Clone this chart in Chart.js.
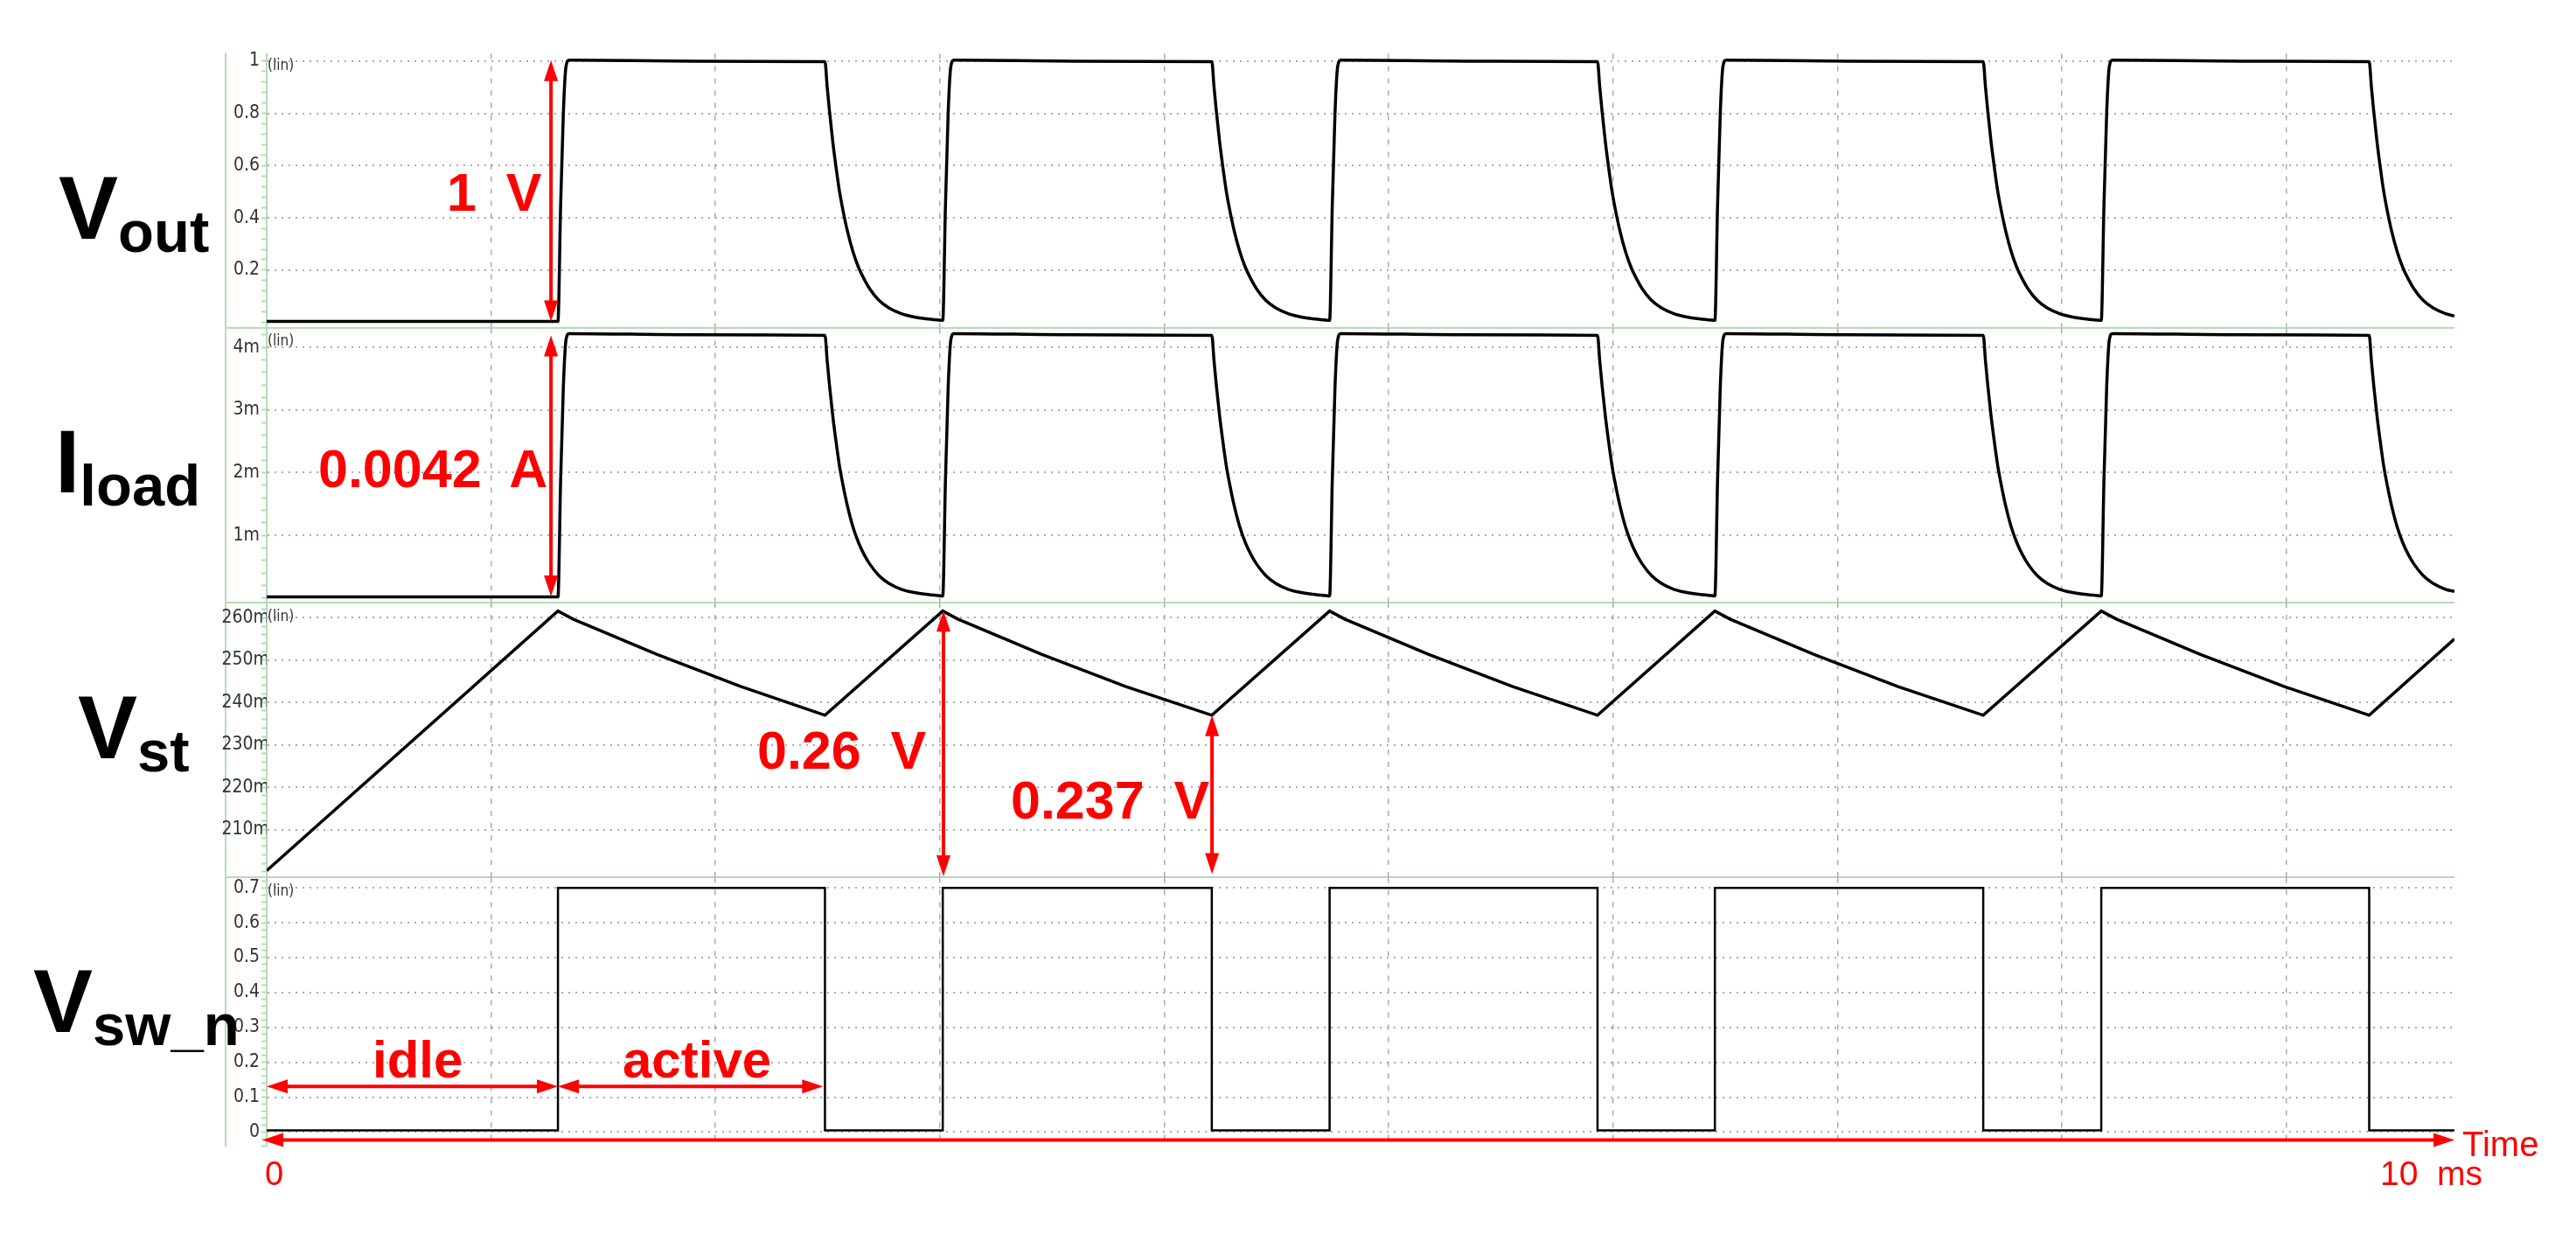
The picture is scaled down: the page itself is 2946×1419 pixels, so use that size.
<!DOCTYPE html>
<html>
<head>
<meta charset="utf-8">
<title>Vout, Iload, Vst, Vsw_n</title>
<script src="https://cdn.jsdelivr.net/npm/chart.js@4.4.1/dist/chart.umd.min.js"></script>
<style>
  html, body { margin: 0; padding: 0; background: #fff; }
  body { width: 2946px; height: 1419px; position: relative; overflow: hidden; font-family: "Liberation Sans", Arial, sans-serif; }
  canvas { position: absolute; left: 0; }
  .frame { position: absolute; left: 257px; top: 61px; width: 0; height: 1250px; border-left: 2px solid #b6dbb6; }
  .sep { position: absolute; left: 257px; width: 2550px; height: 0; border-top: 2px solid #b6dbb6; }
  .sig { position: absolute; font-weight: bold; font-size: 102px; line-height: 1; white-space: nowrap; color: #000; }
  .sig span { font-size: 67px; vertical-align: -15px; }
  .note { position: absolute; color: #ff0000; font-weight: bold; font-size: 61px; line-height: 1; white-space: pre; }
  .axisnote { position: absolute; color: #ff0000; line-height: 1; white-space: pre; }
  .lin { position: absolute; left: 306px; font-family: "DejaVu Sans Condensed", "DejaVu Sans", sans-serif; font-size: 17px; line-height: 1; color: #333; }
</style>
</head>
<body>
<div class="frame"></div>
<div class="sep" style="top:374px"></div>
<div class="sep" style="top:688px"></div>
<div class="sep" style="top:1002px"></div>

<script>
// time in ms (grid every 1), panel values: Vout in V, Iload in mA, Vst in mV, Vsw_n in V
const timeTicks = [0, 1, 2, 3, 4, 5, 6, 7, 8, 9];
const voutTicks = [0.2, 0.4, 0.6, 0.8, 1];
const iloadTicks = [1, 2, 3, 4];
const vstTicks = [210, 220, 230, 240, 250, 260];
const vswTicks = [0, 0.1, 0.2, 0.3, 0.4, 0.5, 0.6, 0.7];

const voutPoints = [
  [0, 0.004], [1.298, 0.004], [1.310, 0.45], [1.322, 0.8], [1.334, 0.98], [1.348, 1.004], [1.90, 1.0], [2.488, 0.998],
  [2.498, 0.90], [2.508, 0.81], [2.523, 0.69], [2.538, 0.59], [2.553, 0.50], [2.568, 0.43], [2.588, 0.35], [2.613, 0.27], [2.638, 0.21],
  [2.663, 0.165], [2.688, 0.128], [2.728, 0.085], [2.774, 0.055], [2.828, 0.034], [2.886, 0.021], [2.938, 0.014], [2.998, 0.009], [3.013, 0.008],
  [3.025, 0.45], [3.037, 0.8], [3.049, 0.98], [3.063, 1.004], [3.60, 1.0], [4.212, 0.998],
  [4.222, 0.90], [4.232, 0.81], [4.247, 0.69], [4.262, 0.59], [4.277, 0.50], [4.292, 0.43], [4.312, 0.35], [4.337, 0.27], [4.362, 0.21],
  [4.387, 0.165], [4.412, 0.128], [4.452, 0.085], [4.498, 0.055], [4.552, 0.034], [4.610, 0.021], [4.662, 0.014], [4.722, 0.009], [4.737, 0.008],
  [4.749, 0.45], [4.761, 0.8], [4.773, 0.98], [4.787, 1.004], [5.35, 1.0], [5.931, 0.998],
  [5.941, 0.90], [5.951, 0.81], [5.966, 0.69], [5.981, 0.59], [5.996, 0.50], [6.011, 0.43], [6.031, 0.35], [6.056, 0.27], [6.081, 0.21],
  [6.106, 0.165], [6.131, 0.128], [6.171, 0.085], [6.217, 0.055], [6.271, 0.034], [6.329, 0.021], [6.381, 0.014], [6.441, 0.009], [6.454, 0.008],
  [6.466, 0.45], [6.478, 0.8], [6.490, 0.98], [6.504, 1.004], [7.05, 1.0], [7.650, 0.998],
  [7.660, 0.90], [7.670, 0.81], [7.685, 0.69], [7.700, 0.59], [7.715, 0.50], [7.730, 0.43], [7.750, 0.35], [7.775, 0.27], [7.800, 0.21],
  [7.825, 0.165], [7.850, 0.128], [7.890, 0.085], [7.936, 0.055], [7.990, 0.034], [8.048, 0.021], [8.100, 0.014], [8.160, 0.009], [8.176, 0.008],
  [8.188, 0.45], [8.200, 0.8], [8.212, 0.98], [8.226, 1.004], [8.80, 1.0], [9.370, 0.998],
  [9.380, 0.90], [9.390, 0.81], [9.405, 0.69], [9.420, 0.59], [9.435, 0.50], [9.450, 0.43], [9.470, 0.35], [9.495, 0.27], [9.520, 0.21],
  [9.545, 0.165], [9.570, 0.128], [9.610, 0.085], [9.656, 0.055], [9.710, 0.034], [9.75, 0.025],
];

const iloadPoints = [
  [0, 0.017], [1.298, 0.017], [1.310, 1.89], [1.322, 3.36], [1.334, 4.12], [1.348, 4.22], [1.90, 4.20], [2.488, 4.19],
  [2.498, 3.78], [2.508, 3.40], [2.523, 2.90], [2.538, 2.48], [2.553, 2.10], [2.568, 1.81], [2.588, 1.47], [2.613, 1.13], [2.638, 0.88],
  [2.663, 0.69], [2.688, 0.54], [2.728, 0.36], [2.774, 0.23], [2.828, 0.14], [2.886, 0.088], [2.938, 0.059], [2.998, 0.038], [3.013, 0.034],
  [3.025, 1.89], [3.037, 3.36], [3.049, 4.12], [3.063, 4.22], [3.60, 4.20], [4.212, 4.19],
  [4.222, 3.78], [4.232, 3.40], [4.247, 2.90], [4.262, 2.48], [4.277, 2.10], [4.292, 1.81], [4.312, 1.47], [4.337, 1.13], [4.362, 0.88],
  [4.387, 0.69], [4.412, 0.54], [4.452, 0.36], [4.498, 0.23], [4.552, 0.14], [4.610, 0.088], [4.662, 0.059], [4.722, 0.038], [4.737, 0.034],
  [4.749, 1.89], [4.761, 3.36], [4.773, 4.12], [4.787, 4.22], [5.35, 4.20], [5.931, 4.19],
  [5.941, 3.78], [5.951, 3.40], [5.966, 2.90], [5.981, 2.48], [5.996, 2.10], [6.011, 1.81], [6.031, 1.47], [6.056, 1.13], [6.081, 0.88],
  [6.106, 0.69], [6.131, 0.54], [6.171, 0.36], [6.217, 0.23], [6.271, 0.14], [6.329, 0.088], [6.381, 0.059], [6.441, 0.038], [6.454, 0.034],
  [6.466, 1.89], [6.478, 3.36], [6.490, 4.12], [6.504, 4.22], [7.05, 4.20], [7.650, 4.19],
  [7.660, 3.78], [7.670, 3.40], [7.685, 2.90], [7.700, 2.48], [7.715, 2.10], [7.730, 1.81], [7.750, 1.47], [7.775, 1.13], [7.800, 0.88],
  [7.825, 0.69], [7.850, 0.54], [7.890, 0.36], [7.936, 0.23], [7.990, 0.14], [8.048, 0.088], [8.100, 0.059], [8.160, 0.038], [8.176, 0.034],
  [8.188, 1.89], [8.200, 3.36], [8.212, 4.12], [8.226, 4.22], [8.80, 4.20], [9.370, 4.19],
  [9.380, 3.78], [9.390, 3.40], [9.405, 2.90], [9.420, 2.48], [9.435, 2.10], [9.450, 1.81], [9.470, 1.47], [9.495, 1.13], [9.520, 0.88],
  [9.545, 0.69], [9.570, 0.54], [9.610, 0.36], [9.656, 0.23], [9.710, 0.14], [9.75, 0.105],
];

const vstPoints = [
  [0, 200.3], [1.298, 261.6], [1.365, 259.7], [1.738, 251.4], [2.112, 243.8], [2.488, 237.0],
  [3.013, 261.6], [3.080, 259.7], [3.453, 251.4], [3.827, 243.8], [4.212, 237.0],
  [4.737, 261.6], [4.804, 259.7], [5.177, 251.4], [5.551, 243.8], [5.931, 237.0],
  [6.454, 261.6], [6.521, 259.7], [6.894, 251.4], [7.268, 243.8], [7.650, 237.0],
  [8.176, 261.6], [8.243, 259.7], [8.616, 251.4], [8.990, 243.8], [9.370, 237.0],
  [9.75, 255.0],
];

const vswPoints = [
  [0, 0.005], [1.298, 0.005], [1.298, 0.7], [2.488, 0.7], [2.488, 0.005],
  [3.013, 0.005], [3.013, 0.7], [4.212, 0.7], [4.212, 0.005],
  [4.737, 0.005], [4.737, 0.7], [5.931, 0.7], [5.931, 0.005],
  [6.454, 0.005], [6.454, 0.7], [7.650, 0.7], [7.650, 0.005],
  [8.176, 0.005], [8.176, 0.7], [9.370, 0.7], [9.370, 0.005],
  [9.75, 0.005],
];

// red annotation arrows, [t0, v0, t1, v1] in each panel's own units
const voutArrows = [[1.267, 0.004, 1.267, 1.004]];
const iloadArrows = [[1.267, 0.024, 1.267, 4.19]];
const vstArrows = [[3.016, 198.97, 3.016, 261.7], [4.213, 199.46, 4.213, 237.0]];
const vswArrows = [
  [0, 0.131, 1.298, 0.131],
  [1.298, 0.131, 2.48, 0.131],
  [-0.02, -0.0225, 9.75, -0.0225],
];

const GREEN = "#b6dbb6";
const RED = "#ff0000";
const GRID = "#ababab";

function arrowPlugin(list) {
  return {
    id: "arrows",
    afterDatasetsDraw(chart) {
      const { ctx, scales } = chart;
      const head = (px, py, ang) => {
        ctx.beginPath();
        ctx.moveTo(px, py);
        ctx.lineTo(px - 24 * Math.cos(ang) + 8 * Math.sin(ang), py - 24 * Math.sin(ang) - 8 * Math.cos(ang));
        ctx.lineTo(px - 24 * Math.cos(ang) - 8 * Math.sin(ang), py - 24 * Math.sin(ang) + 8 * Math.cos(ang));
        ctx.closePath();
        ctx.fill();
      };
      ctx.save();
      ctx.strokeStyle = RED;
      ctx.fillStyle = RED;
      ctx.lineWidth = 4;
      list.forEach(([t0, v0, t1, v1]) => {
        const ax = scales.x.getPixelForValue(t0);
        const ay = scales.y.getPixelForValue(v0);
        const bx = scales.x.getPixelForValue(t1);
        const by = scales.y.getPixelForValue(v1);
        const ang = Math.atan2(by - ay, bx - ax);
        ctx.beginPath();
        ctx.moveTo(ax + 20 * Math.cos(ang), ay + 20 * Math.sin(ang));
        ctx.lineTo(bx - 20 * Math.cos(ang), by - 20 * Math.sin(ang));
        ctx.stroke();
        head(bx, by, ang);
        head(ax, ay, ang + Math.PI);
      });
      ctx.restore();
    },
  };
}

function makePanel(p) {
  const canvas = document.createElement("canvas");
  canvas.width = 2946;
  canvas.height = p.height + 40;
  canvas.style.top = `${p.top - 20}px`;
  document.body.appendChild(canvas);

  new Chart(canvas, {
    type: "scatter",
    data: {
      datasets: [{
        data: p.points.map(([x, y]) => ({ x, y })),
        showLine: true,
        borderColor: "#000",
        borderWidth: p.lineWidth,
        pointRadius: 0,
        cubicInterpolationMode: p.smooth ? "monotone" : "default",
        tension: 0,
      }],
    },
    options: {
      responsive: false,
      animation: false,
      events: [],
      layout: { autoPadding: false, padding: { left: 245, right: 139, top: 20, bottom: 20 } },
      plugins: { legend: { display: false }, tooltip: { enabled: false } },
      scales: {
        x: {
          type: "linear",
          min: 0,
          max: 9.75,
          afterBuildTicks: (s) => { s.ticks = timeTicks.map((v) => ({ value: v })); },
          afterFit: (s) => { s.height = 0; },
          ticks: { display: false },
          grid: { color: GRID, lineWidth: 1.5, drawTicks: false },
          border: { display: false, dash: [6, 8] },
        },
        y: {
          type: "linear",
          position: "left",
          weight: 1,
          min: p.min,
          max: p.max,
          afterBuildTicks: (s) => { s.ticks = p.ticks.map((v) => ({ value: v })); },
          afterFit: (s) => { s.width = 60; },
          ticks: {
            padding: p.labelPad,
            color: "#333",
            font: { family: "'DejaVu Sans Condensed', 'DejaVu Sans', sans-serif", size: 21 },
            callback: p.format,
          },
          grid: { color: GRID, lineWidth: 2, drawTicks: false },
          border: { display: true, color: GREEN, width: 2, dash: [2, 6] },
        },
        yMinor: {
          type: "linear",
          position: "left",
          weight: 0,
          min: p.min,
          max: p.max,
          afterFit: (s) => { s.width = 0; },
          ticks: { display: false, stepSize: p.minor, includeBounds: false },
          grid: { drawOnChartArea: false, drawTicks: true, tickLength: 6, tickColor: GREEN, tickWidth: 2 },
          border: { display: false },
        },
      },
    },
    plugins: [arrowPlugin(p.arrows)],
  });
}

makePanel({
  top: 61, height: 314, min: -0.019, max: 1.0277, ticks: voutTicks, minor: 0.04,
  format: (v) => String(v), labelPad: 8, points: voutPoints, arrows: voutArrows, lineWidth: 3.5, smooth: true,
});
makePanel({
  top: 375, height: 314, min: -0.064, max: 4.301, ticks: iloadTicks, minor: 0.2,
  format: (v) => `${v}m`, labelPad: 8, points: iloadPoints, arrows: iloadArrows, lineWidth: 3.5, smooth: true,
});
makePanel({
  top: 689, height: 314, min: 198.76, max: 263.6, ticks: vstTicks, minor: 2,
  format: (v) => `${v}m`, labelPad: -3, points: vstPoints, arrows: vstArrows, lineWidth: 3.5, smooth: false,
});
makePanel({
  top: 1003, height: 308, min: -0.04, max: 0.729, ticks: vswTicks, minor: 0.02,
  format: (v) => String(v), labelPad: 8, points: vswPoints, arrows: vswArrows, lineWidth: 2.5, smooth: false,
});
</script>

<div class="lin" style="top:66px">(lin)</div>
<div class="lin" style="top:381px">(lin)</div>
<div class="lin" style="top:696px">(lin)</div>
<div class="lin" style="top:1010px">(lin)</div>

<div class="sig" style="left:67px; top:187px">V<span>out</span></div>
<div class="sig" style="left:63px; top:477px">I<span>load</span></div>
<div class="sig" style="left:89px; top:781px">V<span>st</span></div>
<div class="sig" style="left:38px; top:1094px">V<span>sw_n</span></div>

<div class="note" style="left:511px; top:190px">1  V</div>
<div class="note" style="left:364px; top:506px">0.0042  A</div>
<div class="note" style="left:866px; top:828px">0.26  V</div>
<div class="note" style="left:1156px; top:885px">0.237  V</div>
<div class="note" style="left:426px; top:1182px; font-size:60px">idle</div>
<div class="note" style="left:712px; top:1182px; font-size:60px">active</div>

<div class="axisnote" style="left:303px; top:1323px; font-size:38px">0</div>
<div class="axisnote" style="left:2816px; top:1288px; font-size:40px">Time</div>
<div class="axisnote" style="left:2722px; top:1322px; font-size:39px">10  ms</div>
</body>
</html>
